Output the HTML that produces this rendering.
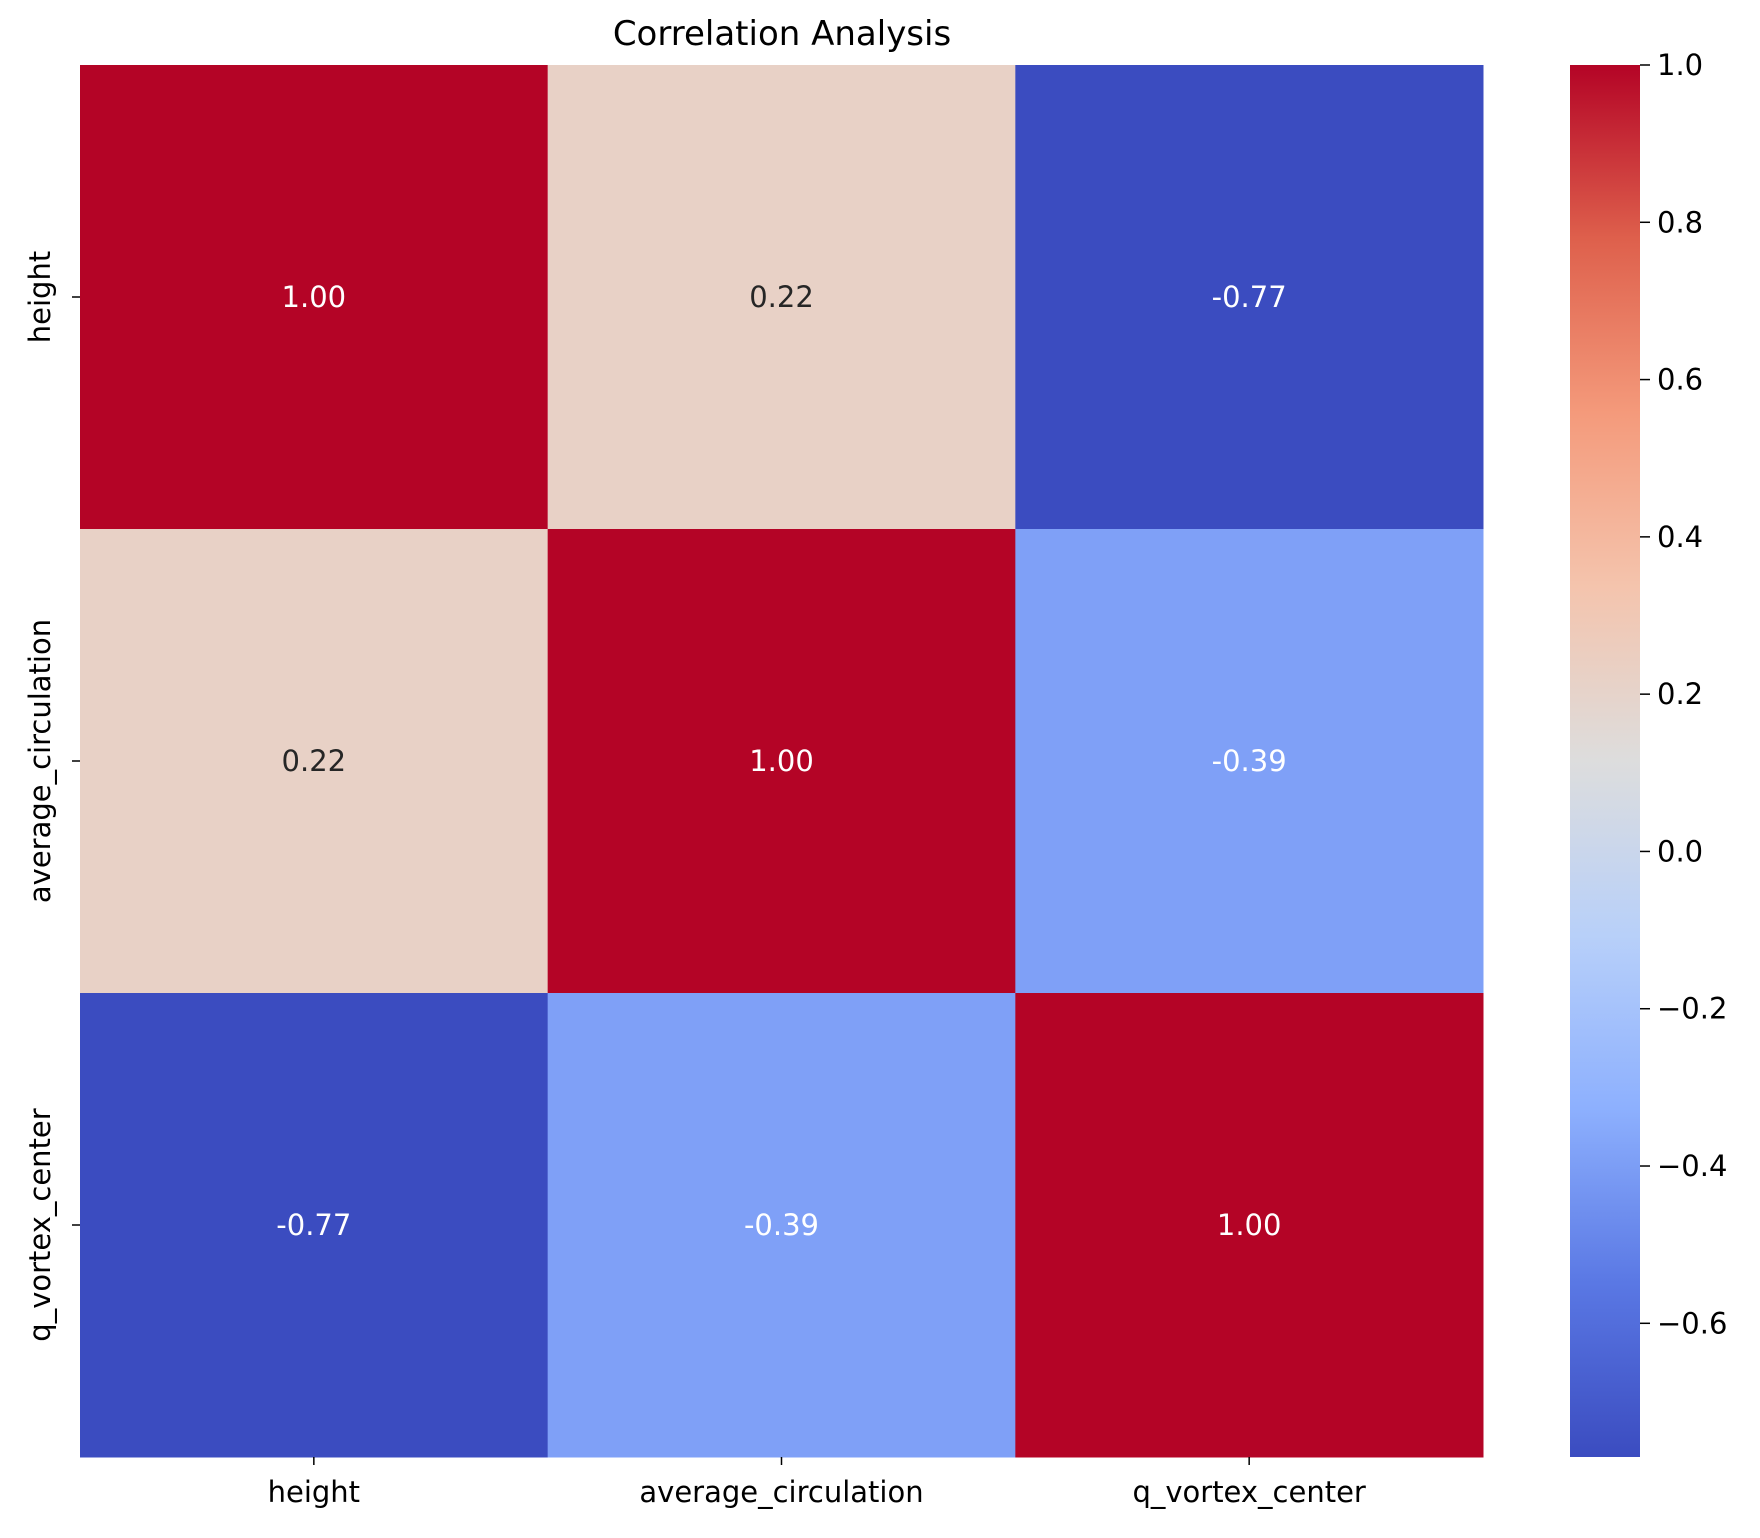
<!DOCTYPE html>
<html><head><meta charset="utf-8">
<style>
html,body{margin:0;padding:0;background:#fff;}
svg text{font-family:"DejaVu Sans","Liberation Sans",sans-serif;}
</style></head>
<body>
<svg id="chart" width="1760" height="1533" viewBox="0 0 1760 1533" xmlns="http://www.w3.org/2000/svg">
<text x="782" y="45" font-size="34" text-anchor="middle" fill="#000">Correlation Analysis</text>
<g id="cells"></g>
<g id="axes"></g>
<defs><linearGradient id="cw" x1="0" y1="1" x2="0" y2="0"></linearGradient></defs>
<g id="cbar"></g>
</svg>
<script>
const labels = ["height", "average_circulation", "q_vortex_center"];
const row0 = [1.00, 0.22, -0.77];
const row1 = [0.22, 1.00, -0.39];
const row2 = [-0.77, -0.39, 1.00];
const matrix = [row0, row1, row2];
const cbarTicks = [1.0, 0.8, 0.6, 0.4, 0.2, 0.0, -0.2, -0.4, -0.6];
const cbarTickLabels = ["1.0", "0.8", "0.6", "0.4", "0.2", "0.0", "\u22120.2", "\u22120.4", "\u22120.6"];

const NS = "http://www.w3.org/2000/svg";
const X0 = 80, X1 = 1483, Y0 = 65, Y1 = 1457;
const CB0 = 1570, CB1 = 1640;
const all = matrix.flat();
const vmin = Math.min(...all), vmax = Math.max(...all);
const n = labels.length;
const cw = (X1 - X0) / n, ch = (Y1 - Y0) / n;
function xPos(i){ return X0 + i * cw; }
function yPos(i){ return Y0 + i * ch; }
function cbY(v){ return Y1 - (v - vmin) / (vmax - vmin) * (Y1 - Y0); }
const stops = [[0,[59,76,192]],[0.125,[90,120,228]],[0.25,[141,176,254]],[0.375,[184,208,249]],[0.5,[221,221,221]],[0.625,[244,196,173]],[0.75,[244,154,123]],[0.875,[222,96,76]],[1,[180,4,38]]];
function color(v){
  let t = Math.max(0, Math.min(1, (v - vmin) / (vmax - vmin)));
  for (let k = 1; k < stops.length; k++) {
    if (t <= stops[k][0]) {
      const a = stops[k-1], b = stops[k], f = (t - a[0]) / (b[0] - a[0]);
      const c = a[1].map((x, j) => Math.round(x + (b[1][j] - x) * f));
      return `rgb(${c[0]},${c[1]},${c[2]})`;
    }
  }
  return "rgb(180,4,38)";
}
function mk(tag, attrs, parent, txt){
  const e = document.createElementNS(NS, tag);
  for (const k in attrs) e.setAttribute(k, attrs[k]);
  if (txt !== undefined) e.textContent = txt;
  parent.appendChild(e);
  return e;
}
const cells = document.getElementById("cells");
matrix.forEach((row, r) => row.forEach((v, c) => {
  const rect = mk("rect", {x: xPos(c), y: yPos(r), width: cw + 0.5, height: ch + 0.5, fill: color(v)}, cells);
  
  
  const t = (v - vmin) / (vmax - vmin);
  const light = t < 0.3 || t > 0.8;
  const tx = mk("text", {x: xPos(c) + cw/2, y: yPos(r) + ch/2 + 10, "font-size": 29, "text-anchor": "middle", fill: light ? "#fff" : "#262626"}, cells, v.toFixed(2));
  
  
}));
const axes = document.getElementById("axes");
labels.forEach((lab, i) => {
  const cx = xPos(i) + cw/2, cy = yPos(i) + ch/2;
  mk("line", {x1: cx, y1: Y1, x2: cx, y2: Y1 + 8, stroke: "#000", "stroke-width": 1.5}, axes);
  const xt = mk("text", {x: cx, y: Y1 + 45, "font-size": 29, "text-anchor": "middle", fill: "#000"}, axes, lab);
  
  
  mk("line", {x1: X0 - 8, y1: cy, x2: X0, y2: cy, stroke: "#000", "stroke-width": 1.5}, axes);
  const yt = mk("text", {x: 50, y: cy, "font-size": 29, "text-anchor": "middle", fill: "#000", transform: `rotate(-90 50 ${cy})`}, axes, lab);
  
  
});
const grad = document.getElementById("cw");
stops.forEach(s => mk("stop", {offset: s[0], "stop-color": `rgb(${s[1].join(",")})`}, grad));
const cb = document.getElementById("cbar");
const bar = mk("rect", {x: CB0, y: Y0, width: CB1 - CB0, height: Y1 - Y0, fill: "url(#cw)"}, cb);


cbarTicks.forEach((v, i) => {
  const y = cbY(v);
  mk("line", {x1: CB1, y1: y, x2: CB1 + 10, y2: y, stroke: "#000", "stroke-width": 1.5}, cb);
  const t = mk("text", {x: CB1 + 17, y: y + 10, "font-size": 29, fill: "#000"}, cb, cbarTickLabels[i]);
  
  
});
</script>
</body></html>
